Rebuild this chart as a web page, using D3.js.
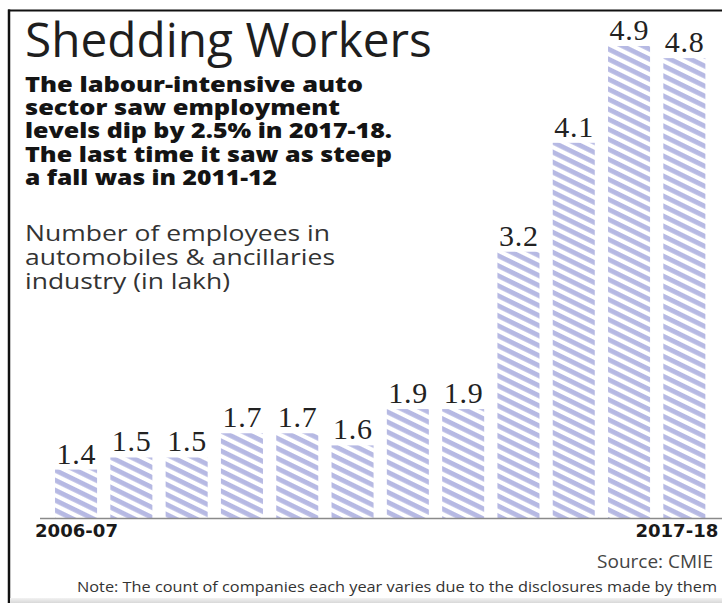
<!DOCTYPE html>
<html>
<head>
<meta charset="utf-8">
<script src="https://cdn.jsdelivr.net/npm/d3@7"></script>
<style>
  html, body { margin: 0; padding: 0; background: #fff; }
  svg { display: block; }
</style>
</head>
<body>
<script>
// Employment in automobiles & ancillaries industry (lakh), CMIE
const years = ["2006-07","2007-08","2008-09","2009-10","2010-11","2011-12",
               "2012-13","2013-14","2014-15","2015-16","2016-17","2017-18"];
const employees = [1.4, 1.5, 1.5, 1.7, 1.7, 1.6, 1.9, 1.9, 3.2, 4.1, 4.9, 4.8];
const axisLabels = ["2006-07", "2017-18"];

const titleText = "Shedding Workers";
const deckLines = [
  "The labour-intensive auto",
  "sector saw employment",
  "levels dip by 2.5% in 2017-18.",
  "The last time it saw as steep",
  "a fall was in 2011-12"
];
const unitLines = [
  "Number of employees in",
  "automobiles & ancillaries",
  "industry (in lakh)"
];
const sourceText = "Source: CMIE";
const noteText = "Note: The count of companies each year varies due to the disclosures made by them";

const W = 722, H = 603;
const svg = d3.select("body").append("svg").attr("width", W).attr("height", H);

// size a text element so its rendered width equals the given width
function fitWidth(sel, width) {
  const node = sel.node();
  const base = parseFloat(sel.attr("font-size"));
  const w = node.getComputedTextLength();
  if (w > 0) sel.attr("font-size", (base * width / w).toFixed(2));
  return sel;
}

// diagonal hatch used to fill the bars
const defs = svg.append("defs");
const pat = defs.append("pattern")
  .attr("id", "hatch")
  .attr("patternUnits", "userSpaceOnUse")
  .attr("width", 20).attr("height", 9)
  .attr("patternTransform", "rotate(26)");
pat.append("rect").attr("width", 20).attr("height", 9).attr("fill", "#ffffff");
pat.append("rect").attr("y", 0).attr("width", 20).attr("height", 4.8).attr("fill", "#b6b9e3");

const grad = defs.append("linearGradient").attr("id", "shade")
  .attr("x1", 0).attr("y1", 0).attr("x2", 0).attr("y2", 1);
grad.append("stop").attr("offset", 0).attr("stop-color", "#f2f2f2");
grad.append("stop").attr("offset", 1).attr("stop-color", "#d8d8d8");

// frame
svg.append("line").attr("x1", 8).attr("x2", W).attr("y1", 10.5).attr("y2", 10.5)
  .attr("stroke", "#111").attr("stroke-width", 2);
svg.append("line").attr("x1", 9).attr("x2", 9).attr("y1", 9.5).attr("y2", H)
  .attr("stroke", "#111").attr("stroke-width", 2.5);
svg.append("rect").attr("x", 10).attr("y", 598).attr("width", W - 10).attr("height", 5)
  .attr("fill", "url(#shade)");

// title
const title = svg.append("text")
  .attr("x", 25).attr("y", 57)
  .attr("font-family", "'Open Sans', sans-serif")
  .attr("font-weight", 500)
  .attr("font-size", 40).attr("fill", "#1e1e1e")
  .text(titleText);
fitWidth(title, 407);

// deck
const deckY = [92, 115, 138, 162, 185];
const deckW = [338, 315, 367, 367, 252];
svg.append("g")
  .attr("font-family", "'Open Sans', sans-serif")
  .attr("font-weight", 800).attr("fill", "#141414")
  .selectAll("text").data(deckLines).join("text")
  .attr("x", 25).attr("y", (d, i) => deckY[i])
  .attr("font-size", 21.5)
  .attr("textLength", (d, i) => deckW[i])
  .attr("lengthAdjust", "spacingAndGlyphs")
  .text(d => d);

// unit description
const unitY = [241, 265, 289];
const unitW = [305, 310, 205];
svg.append("g")
  .attr("font-family", "'Open Sans', sans-serif")
  .attr("fill", "#333")
  .selectAll("text").data(unitLines).join("text")
  .attr("x", 25).attr("y", (d, i) => unitY[i])
  .attr("font-size", 22)
  .attr("textLength", (d, i) => unitW[i])
  .attr("lengthAdjust", "spacingAndGlyphs")
  .text(d => d);

// scales
const x = d3.scaleBand().domain(years).range([48.4, 712]).paddingInner(0.24).paddingOuter(0.12);
const y = d3.scaleLinear().domain([1.0, 4.9]).range([518, 46]);

// bars
svg.append("g").selectAll("rect").data(years).join("rect")
  .attr("x", d => x(d))
  .attr("y", (d, i) => y(employees[i]))
  .attr("width", x.bandwidth())
  .attr("height", (d, i) => y(1.0) - y(employees[i]))
  .attr("fill", "url(#hatch)");

// value labels
svg.append("g")
  .attr("font-family", "'Liberation Serif', 'Times New Roman', serif")
  .attr("font-size", 30).attr("fill", "#222")
  .attr("text-anchor", "middle")
  .selectAll("text").data(years).join("text")
  .attr("x", d => x(d) + x.bandwidth() / 2)
  .attr("y", (d, i) => y(employees[i]) - 6)
  .attr("textLength", 39)
  .attr("lengthAdjust", "spacing")
  .text((d, i) => employees[i].toFixed(1));

// baseline
svg.append("line")
  .attr("x1", 40).attr("x2", W)
  .attr("y1", y(1.0) + 0.5).attr("y2", y(1.0) + 0.5)
  .attr("stroke", "#8a8a8a").attr("stroke-width", 1.5);

// end labels on the category axis
const first = svg.append("text")
  .attr("x", x(axisLabels[0]) - 20).attr("y", 537)
  .attr("font-family", "'DejaVu Sans', sans-serif").attr("font-weight", "bold")
  .attr("font-size", 17).attr("fill", "#1a1a1a")
  .text(axisLabels[0]);
fitWidth(first, 83);
svg.append("text")
  .attr("x", x(axisLabels[1]) + x.bandwidth() + 13).attr("y", 537)
  .attr("text-anchor", "end")
  .attr("font-family", "'DejaVu Sans', sans-serif").attr("font-weight", "bold")
  .attr("font-size", first.attr("font-size")).attr("fill", "#1a1a1a")
  .text(axisLabels[1]);

// source and note
const src = svg.append("text")
  .attr("x", 713).attr("y", 568).attr("text-anchor", "end")
  .attr("font-family", "'Open Sans', sans-serif")
  .attr("font-size", 16).attr("fill", "#444")
  .text(sourceText);
fitWidth(src, 116);

svg.append("text")
  .attr("x", 77).attr("y", 592)
  .attr("font-family", "'Open Sans', sans-serif")
  .attr("font-size", 14.5).attr("fill", "#333")
  .attr("textLength", 640)
  .attr("lengthAdjust", "spacingAndGlyphs")
  .text(noteText);
</script>
</body>
</html>
